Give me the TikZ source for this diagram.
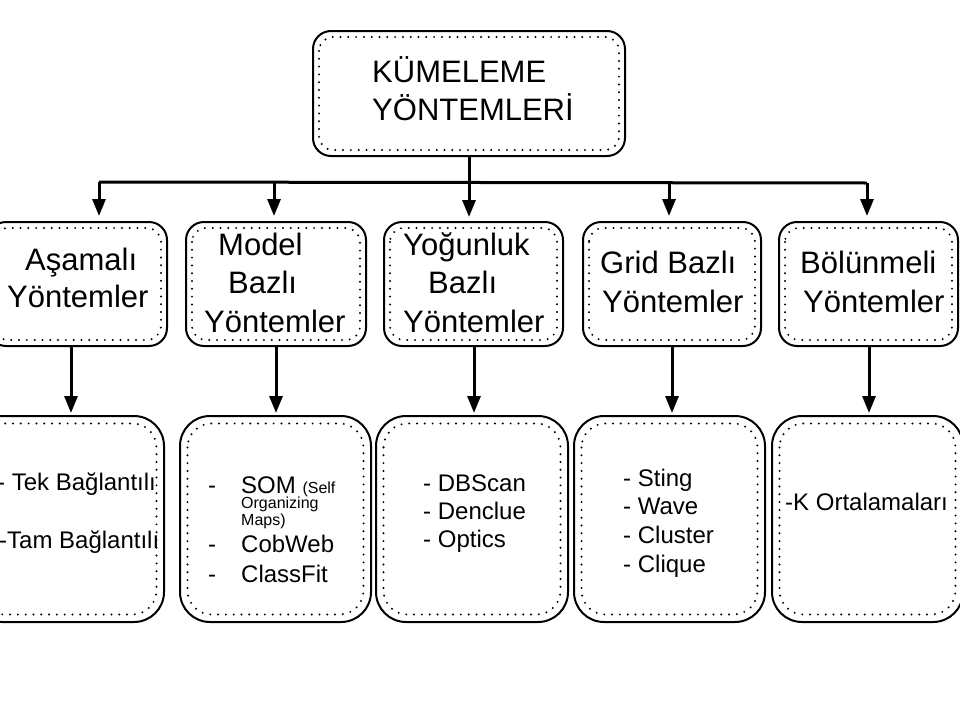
\documentclass[tikz,border=0pt]{standalone}
\usepackage{fontspec}
\setmainfont{Liberation Sans}
\usetikzlibrary{arrows.meta}
\tikzset{
  boxA/.style={draw, line width=2pt, rounded corners=18pt, minimum width=#1, minimum height=124pt, inner sep=0pt},
  boxB/.style={draw, line width=2pt, rounded corners=30pt, minimum width=#1, minimum height=206pt, inner sep=0pt},
  dots/.style={line width=2.2pt, line cap=round, dash pattern=on 0pt off 7.8pt},
  arr/.style={line width=3pt, -{Triangle[length=17pt,width=13pt]}},
  ln/.style={line width=3pt},
  big/.style={anchor=base west, inner sep=0pt, font=\fontsize{31}{38}\selectfont},
  mid/.style={anchor=base west, inner sep=0pt, font=\fontsize{24}{28}\selectfont},
  sml/.style={anchor=base west, inner sep=0pt, font=\fontsize{16}{17}\selectfont}
}
\newcommand{\dotbox}[3]{\draw[dots, rounded corners=#3] ([xshift=#2,yshift=-#2]#1.north west) rectangle ([xshift=-#2,yshift=#2]#1.south east);}
\begin{document}
\begin{tikzpicture}[x=1pt,y=-1pt]
\useasboundingbox[fill=white] (0,0) rectangle (960,720);

% top box
\node[boxA=312pt, minimum height=125pt] (top) at (469,93.5) {};
\dotbox{top}{7pt}{14pt}
\node[big] (t1) at (372,82) {KÜMELEME};
\node[big] (t2) at (372,120) {YÖNTEMLERİ};

% row 1
\node[boxA=179pt] (A1) at (77.5,284) {};
\node[boxA=180pt] (A2) at (276,284) {};
\node[boxA=179pt] (A3) at (473.5,284) {};
\node[boxA=178pt] (A4) at (672,284) {};
\node[boxA=179pt] (A5) at (868.5,284) {};
\foreach \n in {A1,A2,A3,A4,A5} {\dotbox{\n}{7pt}{14pt}}

\node[big] (a1a) at (25,270) {Aşamalı};
\node[big] (a1b) at (7,307) {Yöntemler};
\node[big] (a2a) at (218,255) {Model};
\node[big] (a2b) at (228,293) {Bazlı};
\node[big] (a2c) at (204,332) {Yöntemler};
\node[big] (a3a) at (403,255) {Yoğunluk};
\node[big] (a3b) at (428,293) {Bazlı};
\node[big] (a3c) at (403,332) {Yöntemler};
\node[big] (a4a) at (600,273) {Grid Bazlı};
\node[big] (a4b) at (602,312) {Yöntemler};
\node[big] (a5a) at (800,273) {Bölünmeli};
\node[big] (a5b) at (803,312) {Yöntemler};

% row 2
\node[boxB=192pt] (B1) at (68,519) {};
\node[boxB=191pt] (B2) at (275.5,519) {};
\node[boxB=192pt] (B3) at (472,519) {};
\node[boxB=191pt] (B4) at (669.5,519) {};
\node[boxB=191pt] (B5) at (867.5,519) {};
\foreach \n in {B1,B2,B3,B4,B5} {\dotbox{\n}{8.5pt}{24pt}}

\begin{scope}
\clip (0,400) rectangle (157,640);
\node[mid] (b1a) at (-3,490) {- Tek Bağlantılı};
\node[mid] (b1b) at (-1,548) {-Tam Bağlantılı};
\end{scope}

\node[mid] (b2d1) at (208,493) {-};
\node[mid] (b2d2) at (208,552) {-};
\node[mid] (b2d3) at (208,582) {-};
\node[mid] (b2a) at (241,493) {SOM {\fontsize{16}{17}\selectfont (Self}};
\node[sml] (b2b) at (241,508) {Organizing};
\node[sml] (b2c) at (241,525) {Maps)};
\node[mid] (b2e) at (241,552) {CobWeb};
\node[mid] (b2f) at (241,582) {ClassFit};

\node[mid] (b3a) at (423,491) {- DBScan};
\node[mid] (b3b) at (423,519) {- Denclue};
\node[mid] (b3c) at (423,547) {- Optics};

\node[mid] (b4a) at (623,486) {- Sting};
\node[mid] (b4b) at (623,514) {- Wave};
\node[mid] (b4c) at (623,543) {- Cluster};
\node[mid] (b4d) at (623,572) {- Clique};

\node[mid] (b5a) at (785,510) {-K Ortalamaları};

% connectors top
\coordinate (h1) at (99,182);
\coordinate (h2) at (274,182);
\coordinate (h3) at (469,182);
\coordinate (h4) at (669,183);
\coordinate (h5) at (867,183);
\draw[ln] (h1) -- (h5);
\draw[arr] (top.south -| h3) -- ([yshift=4pt]A3.north -| h3);
\foreach \h/\a in {h1/A1,h2/A2,h4/A4,h5/A5} {\draw[arr] (\h) -- ([yshift=5pt]\a.north -| \h);}

% connectors row1 -> row2
\coordinate (v1) at (71,0);
\coordinate (v2) at (276,0);
\coordinate (v3) at (474,0);
\coordinate (v4) at (672,0);
\coordinate (v5) at (869,0);
\foreach \v/\a/\b in {v1/A1/B1,v2/A2/B2,v3/A3/B3,v4/A4/B4,v5/A5/B5} {\draw[arr] (\a.south -| \v) -- ([yshift=2pt]\b.north -| \v);}
\end{tikzpicture}
\end{document}
